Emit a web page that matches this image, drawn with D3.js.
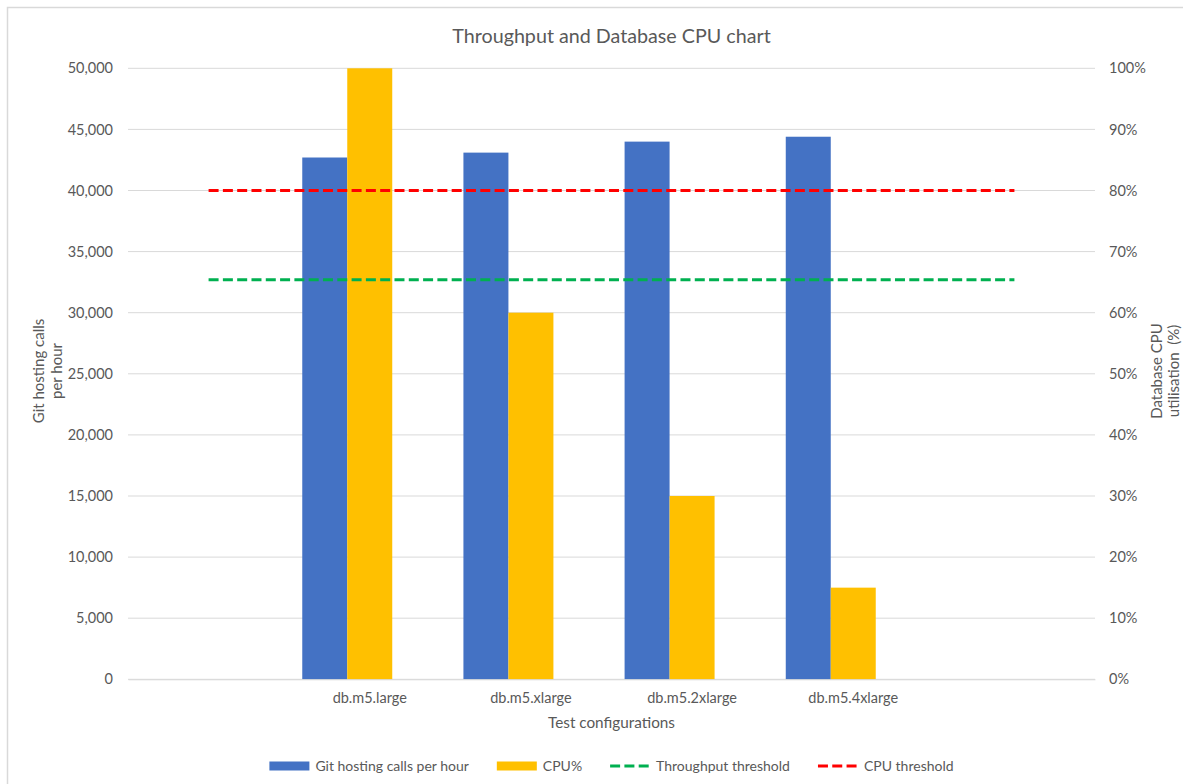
<!DOCTYPE html>
<html>
<head>
<meta charset="utf-8">
<script src="https://cdn.jsdelivr.net/npm/d3@7"></script>
<style>
  html, body { margin: 0; padding: 0; background: #fff; }
  svg { display: block; font-family: Lato, "Open Sans", sans-serif; }
</style>
</head>
<body>
<svg id="chart" width="1183" height="784"></svg>
<script>
// ---- data ----
const categories = ["", "db.m5.large", "db.m5.xlarge", "db.m5.2xlarge", "db.m5.4xlarge", ""];
const callsPerHour = [null, 42700, 43100, 44000, 44400, null];
const cpuPercent = [null, 1.00, 0.60, 0.30, 0.15, null];
const throughputThreshold = [32700, 32700, 32700, 32700, 32700, 32700];
const cpuThreshold = [0.80, 0.80, 0.80, 0.80, 0.80, 0.80];
const barSlots = ["calls", "cpu", "spare"];
const leftTicks = [0, 5000, 10000, 15000, 20000, 25000, 30000, 35000, 40000, 45000, 50000];
const rightTicks = [0, 0.1, 0.2, 0.3, 0.4, 0.5, 0.6, 0.7, 0.8, 0.9, 1.0];
const seriesNames = ["Git hosting calls per hour", "CPU%", "Throughput threshold", "CPU threshold"];

// ---- layout ----
const W = 1183, H = 784;
const plot = { left: 128, right: 1095, top: 68.3, bottom: 679.3 };
const textColor = "#595959";
const gridColor = "#D9D9D9";
const colors = { calls: "#4472C4", cpu: "#FFC000", tput: "#00B050", cpuT: "#FF0000" };
const tickFont = "14.5px";

const svg = d3.select("#chart");

// border of chart area
svg.append("rect").attr("x", 7.5).attr("y", 7.5).attr("width", W + 20).attr("height", H + 20)
  .attr("fill", "none").attr("stroke", gridColor).attr("stroke-width", 1.5);

const x0 = d3.scaleBand().domain(d3.range(categories.length)).range([plot.left, plot.right]).padding(0);
const x1 = d3.scaleBand().domain(barSlots).range([0, x0.bandwidth()]).paddingInner(0).paddingOuter(0.291);
const yL = d3.scaleLinear().domain([0, 50000]).range([plot.bottom, plot.top]);
const yR = d3.scaleLinear().domain([0, 1]).range([plot.bottom, plot.top]);

// gridlines
svg.append("g").selectAll("line").data(leftTicks).join("line")
  .attr("x1", plot.left).attr("x2", plot.right)
  .attr("y1", d => yL(d)).attr("y2", d => yL(d))
  .attr("stroke", gridColor).attr("stroke-width", 1);

// left axis
const leftAxis = d3.axisLeft(yL).tickValues(leftTicks).tickFormat(d3.format(",")).tickSize(0).tickPadding(15);
const gL = svg.append("g").attr("transform", `translate(${plot.left},0)`).call(leftAxis);
gL.select(".domain").remove();
gL.selectAll("text").attr("fill", textColor).style("font-size", tickFont).style("font-family", "Lato");

// right axis
const rightAxis = d3.axisRight(yR).tickValues(rightTicks).tickFormat(d3.format(".0%")).tickSize(0).tickPadding(14);
const gR = svg.append("g").attr("transform", `translate(${plot.right},0)`).call(rightAxis);
gR.select(".domain").remove();
gR.selectAll("text").attr("fill", textColor).style("font-size", tickFont).style("font-family", "Lato");

// bars
const barData = [];
categories.forEach((c, i) => {
  if (callsPerHour[i] != null) barData.push({ i, slot: "calls", y: yL(callsPerHour[i]), color: colors.calls });
  if (cpuPercent[i] != null) barData.push({ i, slot: "cpu", y: yR(cpuPercent[i]), color: colors.cpu });
});
svg.append("g").selectAll("rect").data(barData).join("rect")
  .attr("x", d => x0(d.i) + x1(d.slot))
  .attr("width", x1.bandwidth())
  .attr("y", d => d.y)
  .attr("height", d => plot.bottom - d.y)
  .attr("fill", d => d.color);

// x axis
const xAxis = d3.axisBottom(x0).tickFormat(i => categories[i]).tickSize(0).tickPadding(13);
const gX = svg.append("g").attr("transform", `translate(0,${plot.bottom})`).call(xAxis);
gX.select(".domain").attr("stroke", gridColor);
gX.selectAll("text").attr("fill", textColor).style("font-size", tickFont).style("font-family", "Lato");

// threshold lines
const cx = i => x0(i) + x0.bandwidth() / 2;
const lineL = d3.line().x((d, i) => cx(i)).y(d => yL(d));
const lineR = d3.line().x((d, i) => cx(i)).y(d => yR(d));
svg.append("path").datum(throughputThreshold).attr("d", lineL)
  .attr("fill", "none").attr("stroke", colors.tput).attr("stroke-width", 3).attr("stroke-dasharray", "10,4.3");
svg.append("path").datum(cpuThreshold).attr("d", lineR)
  .attr("fill", "none").attr("stroke", colors.cpuT).attr("stroke-width", 3).attr("stroke-dasharray", "10,4.3");

// title
svg.append("text").attr("x", (plot.left + plot.right) / 2).attr("y", 43)
  .attr("text-anchor", "middle").attr("fill", textColor)
  .style("font-size", "19.7px").text("Throughput and Database CPU chart");

// x axis title
svg.append("text").attr("x", (plot.left + plot.right) / 2).attr("y", 728)
  .attr("text-anchor", "middle").attr("fill", textColor)
  .style("font-size", "15.3px").text("Test configurations");

// left axis title
const lt = svg.append("text").attr("transform", "translate(44,371) rotate(-90)")
  .attr("text-anchor", "middle").attr("fill", textColor).style("font-size", "15px");
lt.append("tspan").attr("x", 0).attr("y", 0).text("Git hosting calls");
lt.append("tspan").attr("x", 0).attr("y", 18).text("per hour");

// right axis title
const rt = svg.append("text").attr("transform", "translate(1162,371) rotate(-90)")
  .attr("text-anchor", "middle").attr("fill", textColor).style("font-size", "15px");
rt.append("tspan").attr("x", 0).attr("y", 0).text("Database CPU");
rt.append("tspan").attr("x", 0).attr("y", 17).attr("xml:space", "preserve").style("white-space", "pre").text("utilisation  (%)");

// legend
const legendItems = [
  { name: seriesNames[0], type: "bar", color: colors.calls },
  { name: seriesNames[1], type: "bar", color: colors.cpu },
  { name: seriesNames[2], type: "line", color: colors.tput },
  { name: seriesNames[3], type: "line", color: colors.cpuT }
];
const lg = svg.append("g");
const legendY = 766;
const swW = 40, swGap = 6, itemGap = 28;
let lx = 0;
const items = lg.selectAll("g").data(legendItems).join("g");
items.each(function (d) {
  const g = d3.select(this);
  if (d.type === "bar") {
    g.append("rect").attr("x", 0).attr("y", legendY - 4.5).attr("width", swW).attr("height", 9).attr("fill", d.color);
  } else {
    g.append("line").attr("x1", 0).attr("x2", swW).attr("y1", legendY).attr("y2", legendY)
      .attr("stroke", d.color).attr("stroke-width", 3).attr("stroke-dasharray", "10,4.3");
  }
  const t = g.append("text").attr("x", swW + swGap).attr("y", legendY + 5)
    .attr("fill", textColor).style("font-size", "14px").text(d.name);
  const w = swW + swGap + t.node().getComputedTextLength();
  g.attr("transform", `translate(${lx},0)`);
  lx += w + itemGap;
});
const totalW = lx - itemGap;
lg.attr("transform", `translate(${(plot.left + plot.right) / 2 - totalW / 2},0)`);
</script>
</body>
</html>
